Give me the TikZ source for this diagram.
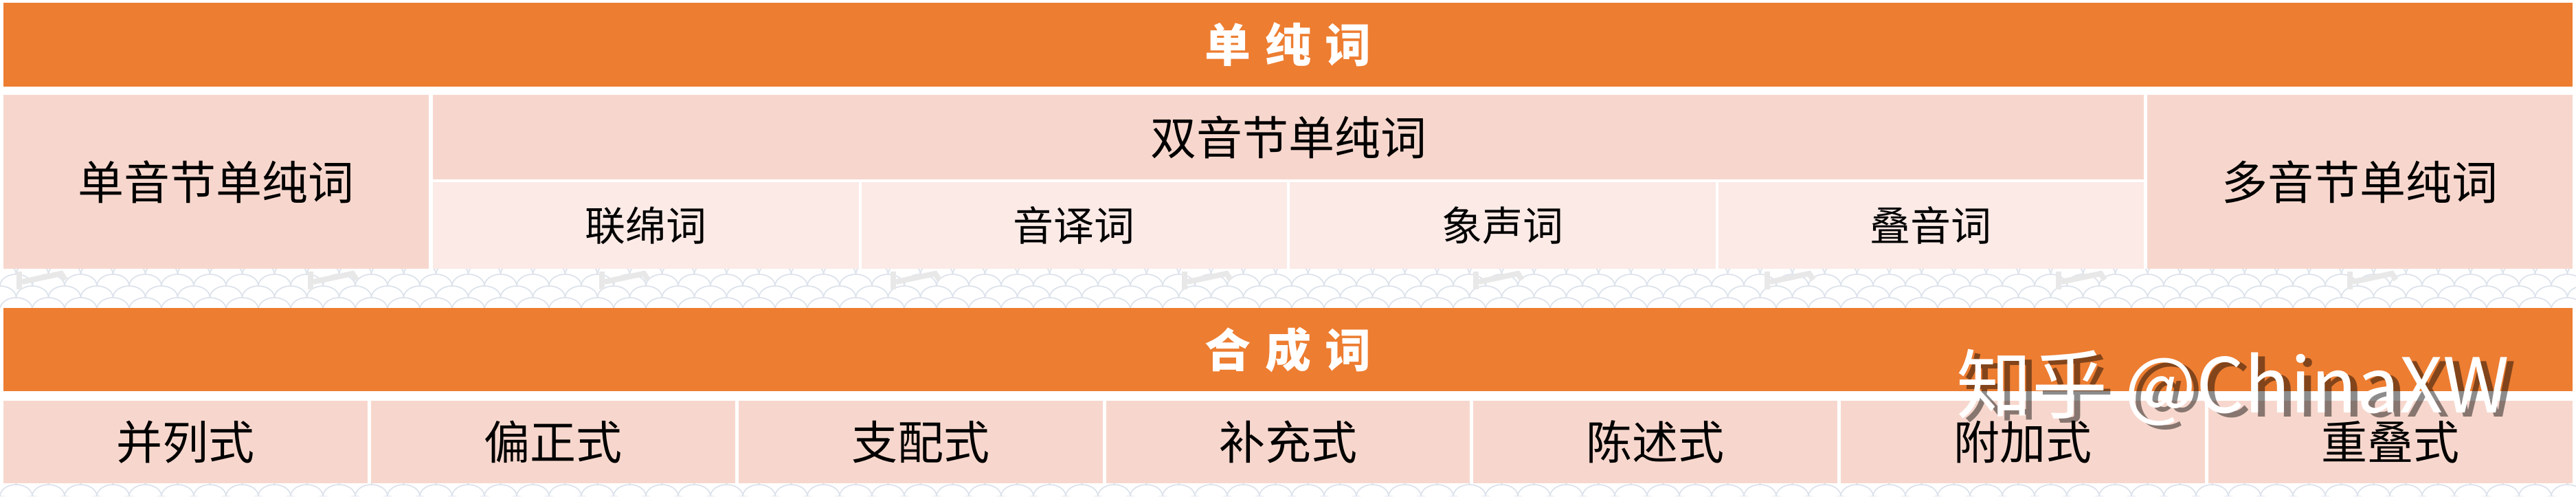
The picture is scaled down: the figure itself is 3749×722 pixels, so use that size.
\documentclass[tikz,border=0pt]{standalone}
\usepackage{fontspec}
\newfontfamily\cjk{Noto Sans CJK SC}
\definecolor{org}{HTML}{ED7D31}
\definecolor{cellA}{HTML}{F7D7CD}
\definecolor{cellB}{HTML}{FBEAE6}
\definecolor{scl}{HTML}{DDE3EC}
\definecolor{logo}{HTML}{E8E8E8}
\tikzset{
  sz/.style 2 args={minimum width=#1*0.2pt, minimum height=#2*0.2pt, inner sep=0pt, outer sep=0pt, anchor=north west},
  hdr/.style={fill=org, text=white, font=\cjk\bfseries\fontsize{13.4pt}{15pt}\selectfont},
  mainc/.style={fill=cellA, text=black, font=\cjk\fontsize{13.4pt}{15pt}\selectfont},
  subc/.style={fill=cellB, text=black, font=\cjk\fontsize{11.8pt}{13pt}\selectfont},
  scaleline/.style={draw=scl, line width=0.35pt},
  logomark/.style={draw=logo, line width=1.6pt},
  wmark/.style={anchor=west, font=\cjk\fontsize{22pt}{24pt}\selectfont},
}
\begin{document}
\begin{tikzpicture}[x=0.2pt,y=-0.2pt]
\useasboundingbox (0,0) rectangle (3749,722);
\fill[white] (0,0) rectangle (3749,722);
% background scale pattern in the gaps
\begin{scope}
  \clip (0,391) rectangle (3749,448) (0,703) rectangle (3749,722);
  \foreach \j/\off in {0/0,1/23.5,2/0,3/23.5,4/0,19/23.5,20/0,21/23.5} {
    \foreach \i in {-1,...,80} {
      \draw[scaleline] ({\i*47+\off}, {382+\j*17}) arc[start angle=180, end angle=360, x radius=23.5, y radius=17];
    }
  }
  \foreach \x in {25,449,873,1297,1721,2145,2569,2993,3417} {
    \draw[logomark] (\x+3,395) -- (\x+3,421);
    \draw[logomark] (\x+7,410) -- (\x+64,398) -- (\x+70,407);
  }
\end{scope}
% top block
\node[sz={3739}{122}, hdr] (h1) at (5,4) {单\hspace{0.3em}纯\hspace{0.3em}词};
\node[sz={619}{253}, mainc] (mono) at (5,138) {单音节单纯词};
\node[sz={2490}{123}, mainc] (di) at (630,138) {双音节单纯词};
\node[sz={619.5}{126}, subc] (s1) at (630,265) {联绵词};
\node[sz={619.5}{126}, subc] (s2) at (1253.5,265) {音译词};
\node[sz={619.5}{126}, subc] (s3) at (1877,265) {象声词};
\node[sz={619.5}{126}, subc] (s4) at (2500.5,265) {叠音词};
\node[sz={619}{253}, mainc] (poly) at (3125,138) {多音节单纯词};
% bottom block
\node[sz={3739}{121}, hdr] (h2) at (5,448) {合\hspace{0.3em}成\hspace{0.3em}词};
\node[sz={529.9}{120}, mainc] (c1) at (5,583) {并列式};
\node[sz={529.9}{120}, mainc] (c2) at (539.86,583) {偏正式};
\node[sz={529.9}{120}, mainc] (c3) at (1074.71,583) {支配式};
\node[sz={529.9}{120}, mainc] (c4) at (1609.57,583) {补充式};
\node[sz={529.9}{120}, mainc] (c5) at (2144.43,583) {陈述式};
\node[sz={529.9}{120}, mainc] (c6) at (2679.29,583) {附加式};
\node[sz={529.9}{120}, mainc] (c7) at (3214.14,583) {重叠式};
% watermark
\node[wmark, text=black, opacity=0.45] (wms) at (2840,570) {知乎 @ChinaXW};
\node[wmark, text=white] (wm) at (2830,564) {知乎 @ChinaXW};
\end{tikzpicture}
\end{document}
